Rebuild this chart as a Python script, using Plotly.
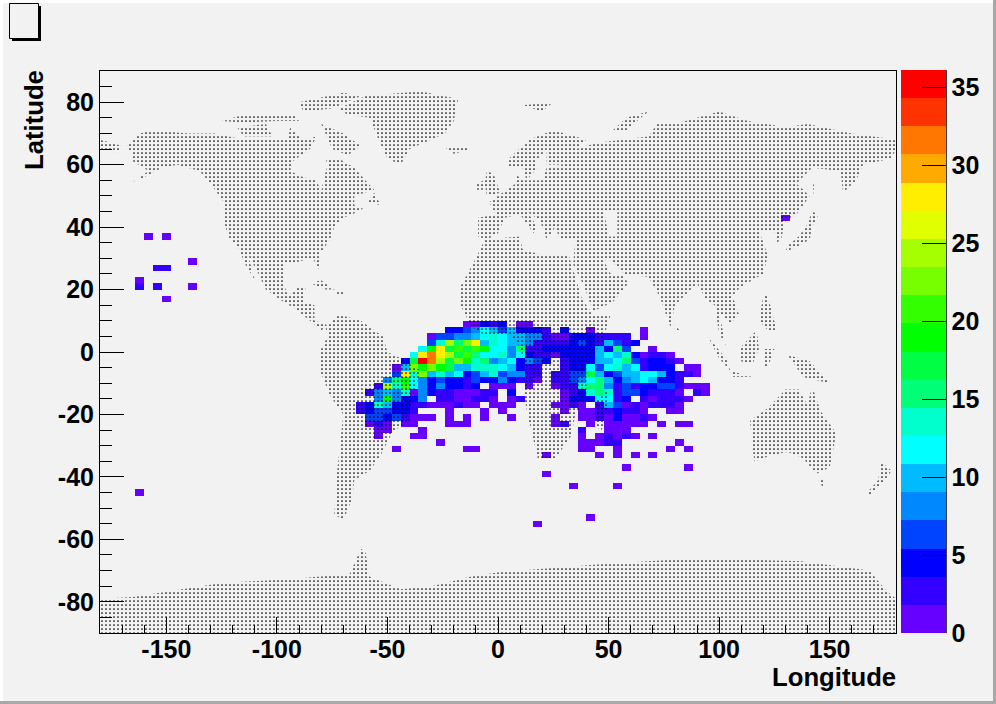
import plotly.graph_objects as go

BG = "#f2f2f2"
# one letter per 4-degree longitude bin, '.' = empty; letters index COLOUR_BAND_COUNTS
COLOUR_BAND_COUNTS = [1, 3, 5, 7, 8, 10, 12, 14, 16, 17, 19, 21, 23, 25, 27, 28, 30, 32, 34, 36]
BAND_KEY = "0123456789abcdefghij"
PALETTE = ["#6600ff", "#3300ff", "#0000ff", "#0044ff", "#0088ff", "#00bbff", "#00ffff", "#00ffcc",
           "#00ff77", "#00ff44", "#00ff00", "#33ff00", "#77ff00", "#a5ff00", "#e0ff00", "#ffee00",
           "#ffaa00", "#ff7700", "#ff3300", "#ff0000"]
Z_MAX = 36.1

# (lower latitude of row, longitude of first bin, bands)
HIST_ROWS = [
    (42, 128, "0"),
    (36, -160, "0.0"),
    (28, -140, "0"),
    (26, -156, "11"),
    (22, -164, "0"),
    (20, -164, "1.1...0"),
    (16, -152, "0"),
    (8, -16, "00212.00"),
    (6, -24, "22346535222" + "1.2..0.....0"),
    (4, -32, "0334456765544" + "1002221111.0"),
    (2, -32, "37d8cf576554" + "111123215312"),
    (0, -36, "6af9b9ba66481" + "1222222" + "5283" + "..0"),
    (-2, -40, "6fhfd9b866746" + "2" + "1102222" + "565720110"),
    (-4, -44, "29jhd9ca784562" + "432" + "." + "1222" + "5568312210"),
    (-6, -48, "05caca95577765211" + ".." + "122" + "6367561222" + "." + "00"),
    (-8, -48, "3f7c575623573441" + "1" + "." + "11339523556652110"),
    (-10, -52, "48a642322132242110" + "." + "113468524565221"),
    (-12, -56, "1d7b64242212" + "." + "000" + "." + "0" + ".." + "0" + "11788413122331000"),
    (-14, -60, "145470421100011" + "." + "2" + "....." + "0" + "1278713321110" + "." + "10"),
    (-16, -56, "4a4224.1100110.01" + "...." + "0" + "2226612" + "." + "101110"),
    (-18, -64, "12752211000100.000" + "...." + "0010" + "." + "1530101110"),
    (-20, -64, "1233221...0...0.0" + "......" + "0.00" + "11211" + "0..00"),
    (-22, -60, "33231000.0.0.0..0" + "...." + "0..001020010"),
    (-24, -60, "010.00...000" + "........." + "01" + ".." + "0" + "." + "00000" + "." + "0" + "." + "00"),
    (-26, -56, "00...0" + "................." + "1" + ".." + "000"),
    (-28, -56, "0...00" + "................." + "0" + "." + "01010" + "." + "0"),
    (-30, -28, "0" + "..............." + "00011" + "......" + "0"),
    (-32, -48, "0" + "......." + "00" + "..........." + "00" + ".." + "0" + "....." + "0" + "." + "0"),
    (-34, 20, "0" + "....." + "0.0.0.0"),
    (-38, 56, "0......0"),
    (-40, 20, "0"),
    (-44, 32, "0....0"),
    (-46, -164, "0"),
    (-54, 40, "0"),
    (-56, 16, "0"),
]

LON_BINS = [-178 + 4 * i for i in range(90)]
LAT_BINS = [-89 + 2 * j for j in range(90)]

# coarse coast outlines (lon, lat)
LAND = {
    "north_america": [(-168, 66), (-162, 70), (-156, 71), (-140, 70), (-128, 70), (-115, 68), (-108, 68), (-95, 68),
                      (-94, 72), (-88, 68), (-82, 69), (-85, 65), (-93, 61), (-94, 58), (-88, 56), (-82, 55), (-80, 51),
                      (-79, 55), (-77, 60), (-78, 62), (-72, 62), (-65, 59), (-60, 55), (-56, 52), (-65, 50), (-65, 47),
                      (-61, 46), (-66, 44), (-70, 43), (-74, 40), (-76, 36), (-81, 31), (-80, 25), (-82, 28), (-84, 30),
                      (-90, 29), (-97, 28), (-97, 22), (-95, 18), (-90, 21), (-87, 21), (-88, 16), (-83, 15), (-83, 10),
                      (-78, 9), (-77, 8), (-80, 7), (-85, 10), (-92, 14), (-97, 16), (-105, 20), (-109, 26), (-113, 31),
                      (-110, 23), (-115, 29), (-117, 33), (-122, 37), (-124, 42), (-124, 48), (-130, 54), (-135, 58),
                      (-145, 60), (-152, 59), (-160, 56), (-165, 54.5), (-158, 58), (-165, 61), (-166, 64)],
    "greenland": [(-72, 78), (-60, 82), (-35, 83.5), (-18, 81), (-20, 74), (-24, 70), (-40, 65), (-44, 60), (-50, 62),
                  (-54, 68), (-58, 75), (-68, 76)],
    "baffin": [(-80, 73), (-70, 70), (-62, 66), (-68, 63), (-75, 65), (-78, 70)],
    "ellesmere": [(-90, 80), (-70, 83), (-62, 82), (-75, 78), (-88, 77)],
    "victoria": [(-118, 72), (-105, 73), (-102, 69), (-115, 69)],
    "banks": [(-125, 74), (-115, 76), (-100, 76), (-92, 76), (-90, 74), (-100, 74), (-115, 73.5)],
    "newfoundland": [(-59, 48), (-56, 51), (-53, 47)],
    "iceland": [(-24, 65.5), (-14, 66), (-14, 64.5), (-20, 63.5)],
    "cuba": [(-85, 22), (-80, 23), (-74, 20), (-78, 20)],
    "hispaniola": [(-74, 20), (-69, 19), (-72, 18)],
    "south_america": [(-78, 8), (-72, 12), (-62, 10), (-52, 5), (-50, 0), (-44, -2), (-35, -6), (-39, -16), (-41, -22),
                      (-48, -26), (-53, -33), (-58, -38), (-65, -41), (-66, -47), (-70, -54), (-74, -52), (-73, -40),
                      (-70, -20), (-76, -14), (-81, -5), (-80, 1), (-77, 5)],
    "africa": [(-17, 15), (-17, 21), (-10, 30), (-6, 36), (10, 37), (11, 33), (20, 31), (32, 31), (35, 24), (38, 17),
                (43, 12), (51, 12), (47, 3), (40, -4), (40, -15), (35, -20), (33, -27), (26, -34), (18, -34), (14, -22),
                (12, -15), (13, -5), (9, 3), (5, 6), (-5, 5), (-12, 8)],
    "madagascar": [(44, -16), (49, -12), (50, -16), (47, -25), (44, -24)],
    "eurasia": [(-9, 37), (-9, 43), (-1, 44), (-4, 48), (2, 51), (8, 54), (8, 57), (11, 55), (20, 55), (22, 59), (30, 60),
                (22, 60), (22, 65), (17, 61), (18, 59), (13, 55), (11, 59), (5, 59), (5, 62), (14, 68), (25, 71), (40, 68),
                (35, 65), (45, 67), (68, 69), (72, 73), (80, 73), (100, 77), (113, 74), (130, 72), (140, 73), (160, 70),
                (180, 68), (180, 65), (178, 62), (165, 60), (162, 55), (156, 51), (155, 58), (142, 59), (135, 54),
                (141, 50), (135, 44), (130, 42), (128, 36), (126, 35), (125, 39), (118, 39), (122, 31), (120, 25),
                (110, 21), (106, 18), (109, 12), (105, 9), (100, 13), (103, 2), (100, 6), (98, 15), (94, 17), (90, 22),
                (80, 15), (78, 8), (73, 18), (68, 24), (57, 25), (50, 30), (48, 29), (51, 25), (56, 25), (59, 22),
                (52, 16), (43, 13), (39, 21), (34, 28), (35, 36), (28, 36), (26, 40), (22, 36), (19, 42), (13, 45),
                (18, 40), (16, 38), (10, 44), (3, 43), (0, 38), (-5, 36)],
    "uk": [(-5, 50), (1, 51), (-2, 57), (-5, 58), (-6, 54)],
    "ireland": [(-10, 52), (-6, 52), (-6, 55), (-10, 54)],
    "japan": [(130, 32), (136, 34), (141, 36), (142, 40), (145, 44), (142, 45), (140, 41), (136, 37), (131, 34)],
    "sakhalin": [(142, 46), (143, 54), (142, 53)],
    "svalbard": [(11, 79), (25, 80), (20, 77)],
    "novaya_zemlya": [(52, 71), (58, 71), (68, 77), (58, 75)],
    "philippines": [(120, 18), (122, 18), (126, 7), (122, 7), (118, 10)],
    "sumatra": [(95, 5), (104, -3), (105, -6), (100, -2)],
    "borneo": [(109, 1), (117, 7), (118, 1), (115, -4), (110, -3)],
    "java": [(105, -6), (115, -8), (106, -8)],
    "sulawesi": [(120, 1), (125, 1), (122, -5), (120, -5)],
    "new_guinea": [(131, -1), (141, -3), (150, -10), (138, -8)],
    "sri_lanka": [(80, 9), (82, 7), (80, 6)],
    "australia": [(114, -22), (122, -18), (130, -12), (136, -12), (140, -17), (142, -11), (146, -19), (153, -26),
                  (150, -37), (144, -39), (138, -34), (131, -32), (124, -33), (116, -35), (115, -30)],
    "tasmania": [(145, -41), (148, -41), (147, -43.5)],
    "new_zealand": [(173, -35), (178, -38), (175, -41), (168, -46), (167, -45), (172, -41)],
    "chukotka_west": [(-180, 68), (-175, 67), (-170, 66), (-172, 64), (-180, 65)],
    "antarctica": [(-180, -90), (-180, -79), (-165, -78.5), (-125, -74), (-89, -72.5), (-67, -71), (-62, -63), (-60, -64),
                   (-58, -72), (-44, -76), (-30, -75), (-12.5, -72), (1, -70.5), (46, -68), (91, -66), (137, -67),
                   (168, -70), (175, -76), (180, -79), (180, -90)],
}
# inland seas left out of the dots
SEAS = {
    "black_sea": [(28, 42), (31, 46), (37, 46), (41, 42)],
    "caspian": [(48, 45), (50, 37), (54, 37), (54, 45)],
}

X_TICKS = [-150, -100, -50, 0, 50, 100, 150]
Y_TICKS = [-80, -60, -40, -20, 0, 20, 40, 60, 80]
Z_TICKS = [0, 5, 10, 15, 20, 25, 30, 35]

# ---- build the histogram grid
grid = [[None] * len(LON_BINS) for _ in LAT_BINS]
for lat_low, lon_start, bands in HIST_ROWS:
    j = (lat_low + 90) // 2
    i0 = (lon_start + 180) // 4
    for k, ch in enumerate(bands):
        if ch != ".":
            grid[j][i0 + k] = COLOUR_BAND_COUNTS[BAND_KEY.index(ch)]

scale = []
n = len(PALETTE)
for k, c in enumerate(PALETTE):
    scale.append([k / n, c])
    scale.append([(k + 1) / n, c])

FONT = dict(family="Liberation Sans, Arial, sans-serif", size=25, color="black", weight=700)
TITLE_FONT = dict(family="Liberation Sans, Arial, sans-serif", size=25.7, color="black", weight=700)

PL, PR, PT, PB = 100, 896, 71, 633


def paper_x(px):
    return (px - PL) / (PR - PL)


def paper_y(py):
    return (PB - py) / (PB - PT)


fig = go.Figure()
fig.add_trace(go.Heatmap(
    x=LON_BINS, y=LAT_BINS, z=grid, zmin=0, zmax=Z_MAX, colorscale=scale, hoverongaps=False, xgap=0, ygap=0,
    colorbar=dict(x=paper_x(901), xanchor="left", xpad=0, y=paper_y(633), yanchor="bottom", ypad=0,
                  lenmode="pixels", len=563, thickness=45,
                  outlinewidth=0, borderwidth=0, tickmode="array", tickvals=Z_TICKS, ticktext=[str(v) for v in Z_TICKS],
                  ticks="inside", ticklen=24, tickwidth=1, tickcolor="black", tickfont=FONT),
))

lons, lats = [], []
for poly in list(LAND.values()) + list(SEAS.values()):
    lons += [p[0] for p in poly] + [poly[0][0], None]
    lats += [p[1] for p in poly] + [poly[0][1], None]

fig.add_trace(go.Scatter(
    x=lons, y=lats, mode="none", fill="toself", fillcolor="rgba(0,0,0,0)", hoverinfo="skip", showlegend=False,
    fillpattern=dict(shape=".", size=4, solidity=0.15, fgcolor="black", fgopacity=1, bgcolor="rgba(0,0,0,0)"),
))


def rect(x0, y0, x1, y1, fill, line=None):
    return dict(type="rect", xref="paper", yref="paper", x0=paper_x(x0), x1=paper_x(x1), y0=paper_y(y1), y1=paper_y(y0),
                fillcolor=fill, line=dict(color=line or fill, width=1 if line else 0), layer="above")


shapes = [
    rect(0, 0, 996, 3, "#ffffff"),
    rect(0, 0, 3, 704, "#ffffff"),
    rect(993, 0, 996, 704, "#a8a8a8"),
    rect(0, 701, 996, 704, "#a8a8a8"),
    rect(12, 6, 41, 41, "black"),
    rect(9.5, 3.5, 38.5, 38.5, BG, "black"),
    dict(type="line", xref="paper", yref="paper", x0=paper_x(946), x1=paper_x(946), y0=paper_y(633), y1=paper_y(70),
         line=dict(color="black", width=1.5), layer="above"),
]

fig.update_layout(
    width=996, height=704, margin=dict(l=PL, r=996 - PR, t=PT, b=704 - PB, autoexpand=False),
    paper_bgcolor=BG, plot_bgcolor=BG, font=FONT, showlegend=False, shapes=shapes,
    xaxis=dict(range=[-180, 180], showgrid=False, zeroline=False, showline=True, linecolor="black", linewidth=1,
               mirror=True, tickmode="array", tickvals=X_TICKS, ticktext=[str(v) for v in X_TICKS], ticks="inside",
               ticklen=16, tickwidth=1, tickcolor="black", tickfont=FONT, ticklabelstandoff=-6,
               minor=dict(dtick=10, tick0=0, ticks="inside", ticklen=8, tickcolor="black", tickwidth=1, showgrid=False)),
    yaxis=dict(range=[-90, 90], showgrid=False, zeroline=False, showline=True, linecolor="black", linewidth=1,
               mirror=True, tickmode="array", tickvals=Y_TICKS, ticktext=[str(v) for v in Y_TICKS], ticks="inside",
               ticklen=24, tickwidth=1, tickcolor="black", tickfont=FONT, ticklabelstandoff=0,
               minor=dict(dtick=5, tick0=0, ticks="inside", ticklen=12, tickcolor="black", tickwidth=1, showgrid=False)),
    annotations=[
        dict(text="Longitude", xref="paper", yref="paper", x=1, y=paper_y(677), xanchor="right", yanchor="middle",
             showarrow=False, font=TITLE_FONT, xshift=2),
        dict(text="Latitude", xref="paper", yref="paper", x=paper_x(36), y=paper_y(68), xanchor="center", yanchor="top",
             showarrow=False, textangle=-90, font=TITLE_FONT, xshift=-2),
    ],
)

fig.write_html("out.html", config={"displayModeBar": False},
               post_script="document.body.style.margin='0';document.body.style.overflow='hidden';")
